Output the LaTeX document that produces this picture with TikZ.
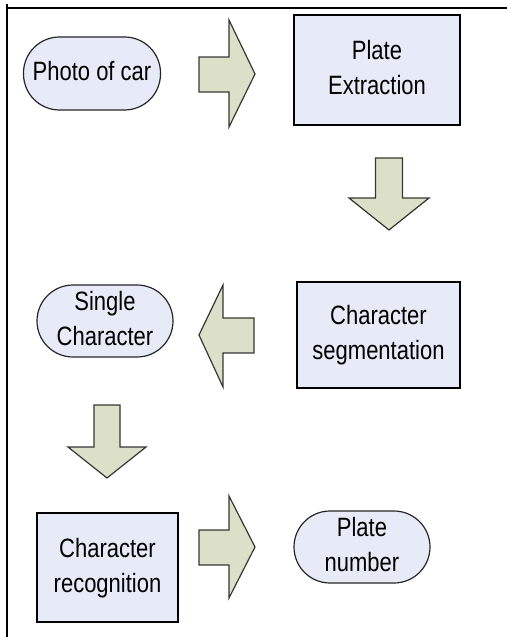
\documentclass[tikz,border=0pt]{standalone}
\usepackage{fontspec}
\setmainfont{Liberation Sans}
\usepackage{graphicx}
\definecolor{boxfill}{RGB}{231,235,247}
\definecolor{arrfill}{RGB}{220,224,200}
\definecolor{arrdraw}{RGB}{55,55,50}
\newcommand\lbl[1]{\scalebox{0.83}[1]{\begin{tabular}{@{}c@{}}#1\end{tabular}}}
\begin{document}
\begin{tikzpicture}[x=1pt,y=-1pt,
  every node/.style={font=\fontsize{26.5}{35}\selectfont, inner sep=0pt},
  procbox/.style={draw=black, fill=boxfill, line width=1.3pt, rectangle},
  pill/.style={draw=black!85, fill=boxfill, line width=1.2pt, rectangle, rounded corners=36pt},
  blockarrow/.style={draw=arrdraw, fill=arrfill, line width=1.2pt}]
\useasboundingbox (0,0) rectangle (507,637);
% frame
\draw[line width=1.8pt] (7,637) -- (7,4) (6,8) -- (507,8);
% nodes
\node[pill, minimum width=137pt, minimum height=73pt] (photo) at (92,73.5) {\lbl{Photo of car}};
\node[procbox, minimum width=166pt, minimum height=110pt] (extract) at (377,70) {\lbl{Plate\\Extraction}};
\node[procbox, minimum width=163pt, minimum height=106pt] (segment) at (378.5,335) {\lbl{Character\\segmentation}};
\node[pill, minimum width=136pt, minimum height=72pt] (single) at (105,321) {\lbl{Single\\Character}};
\node[procbox, minimum width=141pt, minimum height=109pt] (recog) at (107.5,567.5) {\lbl{Character\\recognition}};
\node[pill, minimum width=136pt, minimum height=72pt] (number) at (362,547) {\lbl{Plate\\number}};
% block arrows
\draw[blockarrow] (199,57) -- (229,57) -- (229,20) -- (255,74) -- (229,127) -- (229,92) -- (199,92) -- cycle;
\draw[blockarrow] (375.5,158) -- (402.5,158) -- (402.5,198) -- (429,198) -- (389,230) -- (349,198) -- (375.5,198) -- cycle;
\draw[blockarrow] (254,318) -- (223,318) -- (223,285) -- (199,335) -- (223,387) -- (223,353) -- (254,353) -- cycle;
\draw[blockarrow] (94,405) -- (120,405) -- (120,447) -- (146,447) -- (107,478) -- (68,447) -- (94,447) -- cycle;
\draw[blockarrow] (199,530) -- (229,530) -- (229,496) -- (255,547) -- (229,598) -- (229,565) -- (199,565) -- cycle;
\end{tikzpicture}
\end{document}
